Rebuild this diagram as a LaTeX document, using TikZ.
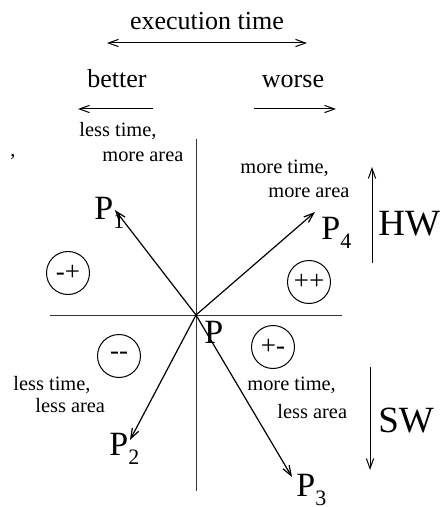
\documentclass[tikz,border=0pt]{standalone}
\usepackage{fontspec}
\setmainfont{Liberation Serif}
\usetikzlibrary{arrows.meta,positioning}
\tikzset{
  ax/.style    ={line width=.45pt, draw=black!80},
  vec/.style   ={-{Straight Barb[length=5pt,width=3.6pt]}, line width=.6pt},
  dirr/.style  ={-{Straight Barb[length=5pt,width=3.6pt]}, line width=.5pt},
  bidir/.style ={{Straight Barb[length=5pt,width=3.6pt]}-{Straight Barb[length=5pt,width=3.6pt]}, line width=.5pt},
  big/.style   ={font=\fontsize{13}{15}\selectfont, inner sep=0pt},
  note/.style  ={font=\fontsize{10.2}{#1}\selectfont, inner sep=0pt, align=left},
  note/.default=12.5pt,
  sgn/.style   ={circle, draw, line width=.5pt, minimum size=21.5pt, inner sep=0pt,
                 font=\fontsize{13.5}{13.5}\selectfont},
  pnt/.style   ={font=\fontsize{17}{17}\selectfont, inner sep=0pt},
  hs/.style    ={font=\fontsize{18.5}{18.5}\selectfont, inner sep=0pt},
}
\newcommand{\Pidx}[1]{P\raisebox{-4.5pt}{\fontsize{11}{11}\selectfont #1}}
\begin{document}
\begin{tikzpicture}[x=.5pt,y=-.5pt]
  \useasboundingbox (0,0) rectangle (439,507);
  % execution time scale
  \node[big, anchor=base](exec) at (207,30){execution time};
  \coordinate (eL) at (107,43);
  \coordinate (eR) at (307,43);
  \draw[bidir](eL)--(eR);
  \node[big, anchor=base](better) at (117,88){better};
  \node[big, anchor=base](worse)  at (293,88){worse};
  \coordinate (bS) at (153,109); \coordinate (bE) at (78,109);
  \coordinate (wS) at (254,109); \coordinate (wE) at (336,109);
  \draw[dirr](bS)--(bE);
  \draw[dirr](wS)--(wE);
  % axes
  \coordinate (O)  at (196,315);
  \coordinate (yT) at (196,139); \coordinate (yB) at (196,491);
  \coordinate (xL) at (50,315);  \coordinate (xR) at (342,315);
  \draw[ax](yT)--(yB);
  \draw[ax](xL)--(xR);
  % design points
  \coordinate (t1) at (115,210);
  \coordinate (t2) at (130,440);
  \coordinate (t3) at (292,477);
  \coordinate (t4) at (315,212);
  \draw[vec](O)--(t1);
  \draw[vec](O)--(t2);
  \draw[vec](O)--(t3);
  \draw[vec](O)--(t4);
  \node[pnt, anchor=base west](p0) at (204,343){P};
  \node[pnt, anchor=base west](p1) at (94,220){\Pidx{1}};
  \node[pnt, anchor=base west](p2) at (109,455){\Pidx{2}};
  \node[pnt, anchor=base west](p3) at (296,496){\Pidx{3}};
  \node[pnt, anchor=base west](p4) at (321,240){\Pidx{4}};
  % quadrant signs
  \node[sgn](mp) at (68,273){-+};
  \node[sgn](pp) at (309,282){++};
  \node[sgn](mm) at (119,356){{-}{-}};
  \node[sgn](pm) at (273,347){+-};
  % quadrant notes (base = last line)
  \node[note, anchor=base west](nTL) at (79,162){less time,\\\hspace*{11.5pt}more area};
  \node[note=12pt, anchor=base west](nTR) at (240,198){more time,\\\hspace*{14pt}more area};
  \node[note=11pt, anchor=base west](nBL) at (13,412){less time,\\\hspace*{11pt}less area};
  \node[note=14pt, anchor=base west](nBR) at (247,418){more time,\\\hspace*{15pt}less area};
  \node[note, anchor=base](cm) at (13,157){,};
  % HW / SW
  \coordinate (hS) at (372,263); \coordinate (hE) at (372,167);
  \coordinate (sS) at (370,367); \coordinate (sE) at (370,470);
  \draw[dirr](hS)--(hE);
  \draw[dirr](sS)--(sE);
  \node[hs, anchor=base west](hw) at (378,235){HW};
  \node[hs, anchor=base west](sw) at (378,432){SW};
\end{tikzpicture}
\end{document}
